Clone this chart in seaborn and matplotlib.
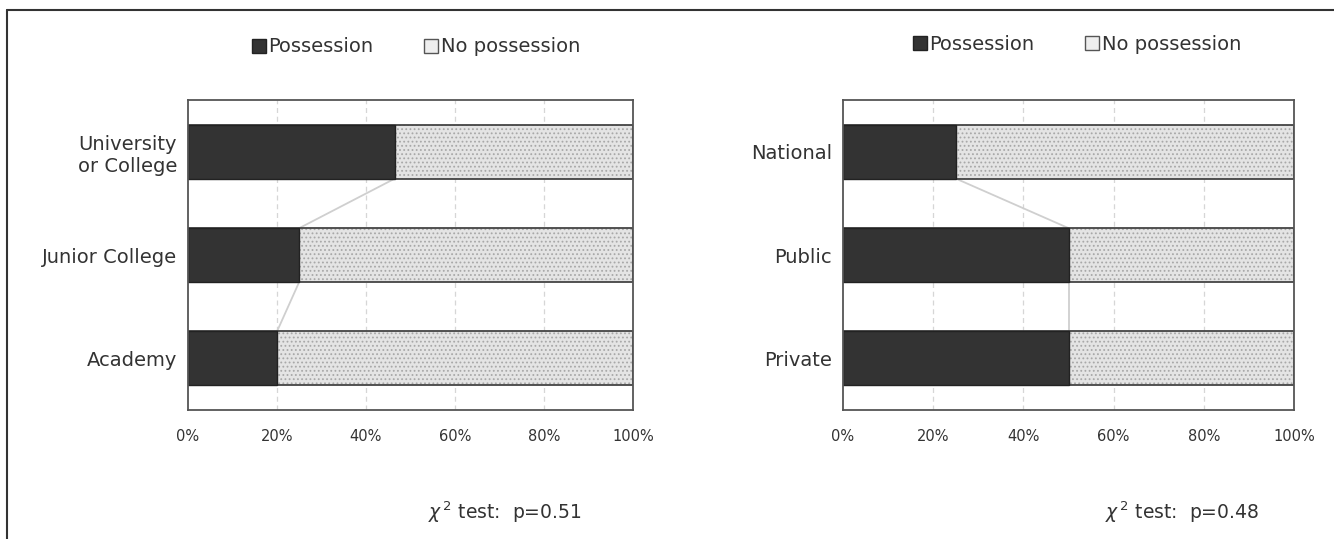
import numpy as np
import pandas as pd
import matplotlib
matplotlib.use("Agg")
import matplotlib.pyplot as plt
import seaborn as sns
from matplotlib.patches import Patch
from matplotlib.lines import Line2D

# Données (%)
left_cats = ["University\nor College", "Junior College", "Academy"]
left_poss = [46.5, 25.0, 20.0]
left_p = "0.51"

right_cats = ["National", "Public", "Private"]
right_poss = [25.0, 50.0, 50.0]
right_p = "0.48"

ticks = [0, 20, 40, 60, 80, 100]

sns.set_style("white")
plt.rcParams["font.family"] = ["DejaVu Sans"]
plt.rcParams["hatch.linewidth"] = 0.8

DARK = "#333333"
LIGHT = "#e4e4e4"
BAR_H = 0.52


def draw_panel(ax, cats, poss):
    df = pd.DataFrame({"cat": cats, "poss": poss, "total": [100.0] * len(cats)})
    # fond hachuré "No possession"
    sns.barplot(data=df, y="cat", x="total", orient="h", ax=ax, color=LIGHT,
                width=BAR_H, edgecolor="#a8a8a8", linewidth=0, hatch="....",
                saturation=1)
    # contour
    sns.barplot(data=df, y="cat", x="total", orient="h", ax=ax, fill=False,
                width=BAR_H, edgecolor="#444444", linewidth=1.3)
    # "Possession"
    sns.barplot(data=df, y="cat", x="poss", orient="h", ax=ax, color=DARK,
                width=BAR_H, edgecolor="#222222", linewidth=1.0, saturation=1)

    # lignes de série (style Excel)
    for i in range(len(cats) - 1):
        ax.add_line(Line2D([poss[i], poss[i + 1]],
                           [i + BAR_H / 2, i + 1 - BAR_H / 2],
                           color="#cfcfcf", lw=1.3, zorder=0.5))

    ax.set_xlim(0, 100)
    ax.set_ylim(len(cats) - 0.5, -0.5)
    ax.set_xticks(ticks)
    ax.set_xticklabels([f"{t}%" for t in ticks], fontsize=10.5, color="#333333")
    ax.tick_params(axis="y", labelsize=14, labelcolor="#333333", length=0, pad=8)
    ax.tick_params(axis="x", length=0, pad=14)
    ax.set_xlabel("")
    ax.set_ylabel("")
    for t in ticks[1:-1]:
        ax.axvline(t, color="#d6d6d6", lw=0.9, ls=(0, (4, 3)), zorder=0)
    for s in ax.spines.values():
        s.set_visible(True)
        s.set_color("#555555")
        s.set_linewidth(1.3)
    ax.set_axisbelow(True)


fig = plt.figure(figsize=(13.34, 5.39), dpi=100)
ax1 = fig.add_axes([188 / 1334, 1 - 410 / 539, 445 / 1334, 310 / 539])
ax2 = fig.add_axes([843 / 1334, 1 - 410 / 539, 451 / 1334, 310 / 539])

draw_panel(ax1, left_cats, left_poss)
draw_panel(ax2, right_cats, right_poss)

handles = [Patch(facecolor=DARK, edgecolor="#222222"),
           Patch(facecolor="#eeeeee", edgecolor="#555555")]
labels = ["Possession", "No possession"]
for cx, cy in [(416 / 1334, 1 - 47 / 539), (1077 / 1334, 1 - 44 / 539)]:
    fig.legend(handles, labels, loc="center", bbox_to_anchor=(cx, cy), ncol=2,
               frameon=False, fontsize=14, handlelength=0.7, handleheight=0.7,
               handletextpad=0.15, columnspacing=2.6, labelcolor="#333333")

fig.text(505 / 1334, 1 - 512 / 539, r"$\chi^{\,2}$ test:  p=" + left_p,
         ha="center", va="center", fontsize=13.5, color="#333333")
fig.text(1182 / 1334, 1 - 512 / 539, r"$\chi^{\,2}$ test:  p=" + right_p,
         ha="center", va="center", fontsize=13.5, color="#333333")

# cadre de la figure (haut et gauche)
fig.add_artist(Line2D([7 / 1334, 1], [1 - 10 / 539, 1 - 10 / 539],
                      transform=fig.transFigure, color="#333333", lw=1.5))
fig.add_artist(Line2D([7 / 1334, 7 / 1334], [0, 1 - 10 / 539],
                      transform=fig.transFigure, color="#333333", lw=1.5))

fig.savefig("out.png", dpi=100)
